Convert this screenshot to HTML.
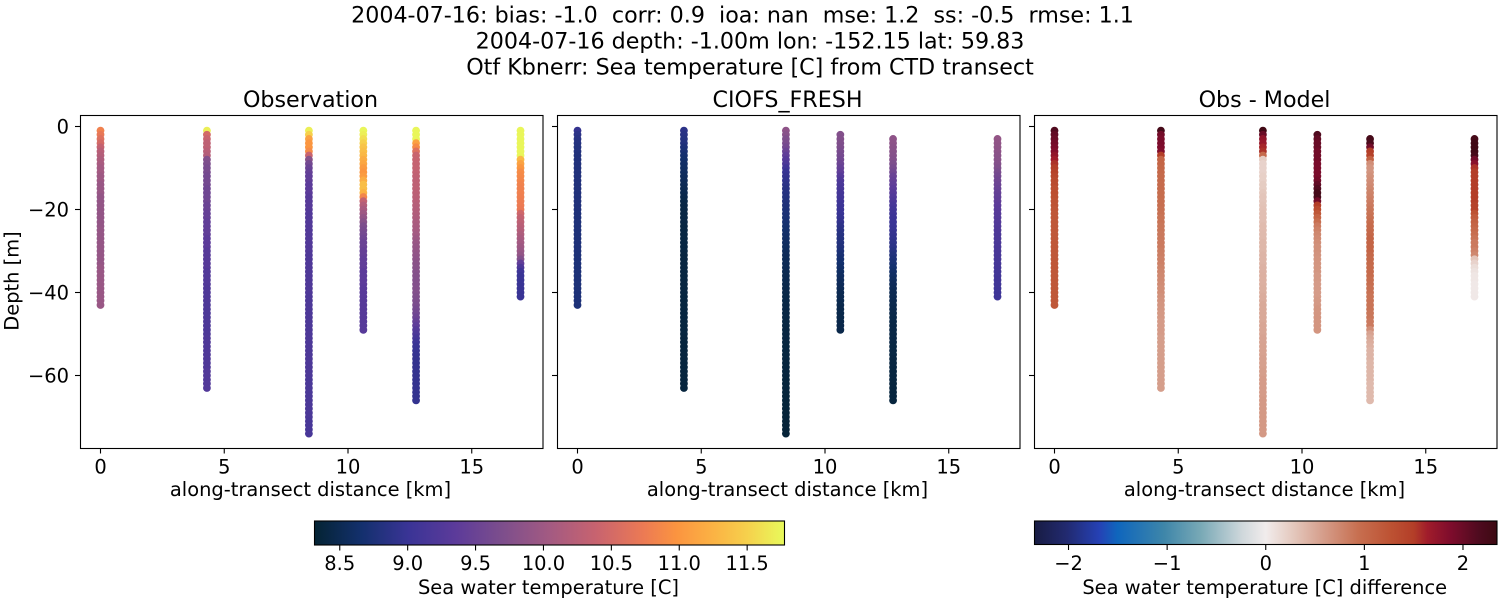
<!DOCTYPE html>
<html lang="en">
<head>
<meta charset="utf-8">
<title>Sea temperature CTD transect</title>
<style>
html,body{margin:0;padding:0;background:#fff;}
svg{display:block;}
text{font-family:"DejaVu Sans","Liberation Sans",sans-serif;fill:#000;white-space:pre;}
</style>
</head>
<body>
<svg id="chart" xmlns="http://www.w3.org/2000/svg" width="1500" height="600" viewBox="0 0 1500 600">
  <defs>
    <linearGradient id="thermal-gradient" x1="0" x2="1" y1="0" y2="0"></linearGradient>
    <linearGradient id="balance-gradient" x1="0" x2="1" y1="0" y2="0"></linearGradient>
  </defs>
  <rect x="0" y="0" width="1500" height="600" fill="#fff"/>
  <g text-anchor="middle" font-size="22.2">
    <text x="742.5" y="22.5" xml:space="preserve">2004-07-16: bias: -1.0  corr: 0.9  ioa: nan  mse: 1.2  ss: -0.5  rmse: 1.1</text>
    <text x="750" y="48.5">2004-07-16 depth: -1.00m lon: -152.15 lat: 59.83</text>
    <text x="750" y="74.5">Otf Kbnerr: Sea temperature [C] from CTD transect</text>
  </g>
  <g id="panels"></g>
  <g id="colorbars"></g>
</svg>
<script>
// ---- data: station distance along the transect [km]
var stationKm = [0, 4.3, 8.42, 10.62, 12.75, 16.97];
// first sampled depth [m] per station
var obsStartDepth = [1, 1, 1, 1, 1, 1];
var modelStartDepth = [1, 1, 1, 2, 3, 3];
// tick labels
var xTicks = [0, 5, 10, 15];
var yTicks = [0, -20, -40, -60];
var tempTicks = [8.5, 9.0, 9.5, 10.0, 10.5, 11.0, 11.5];
var diffTicks = [-2, -1, 0, 1, 2];
// colour limits
var tempLimits = [8.314, 11.775];
var diffLimits = [-2.345, 2.345];

// observed temperature, one value per metre, per station
var obsStation1 = [10.8,10.7,10.6,10.5,10.35,10.25,10.2,10.15,10.1,10.05,
10.05,10.0,10.0,9.95,9.95,9.95,9.9,9.9,9.9,9.9,
9.9,9.9,9.9,9.9,9.92,9.92,9.92,9.92,9.92,9.92,
9.92,9.92,9.92,9.95,9.95,9.95,9.95,9.95,9.95,9.95,9.95,9.95,9.95];
var obsStation2 = [11.7,10.5,10.4,10.3,10.3,10.25,10.2,9.75,9.7,9.65,
9.65,9.6,9.6,9.6,9.55,9.55,9.55,9.55,9.5,9.5,
9.45,9.45,9.4,9.4,9.4,9.4,9.35,9.35,9.35,9.3,
9.3,9.3,9.3,9.3,9.25,9.25,9.25,9.25,9.22,9.22,
9.22,9.22,9.2,9.2,9.2,9.2,9.2,9.2,9.2,9.2,
9.22,9.22,9.22,9.22,9.22,9.22,9.22,9.22,9.25,9.25,
9.25,9.25,9.25];
var obsStation3 = [11.7,11.5,11.1,11.0,11.0,10.9,10.4,9.8,9.6,9.5,
9.45,9.4,9.4,9.35,9.35,9.35,9.3,9.3,9.3,9.3,
9.25,9.25,9.25,9.25,9.25,9.25,9.25,9.25,9.25,9.25,
9.22,9.22,9.22,9.22,9.22,9.22,9.22,9.22,9.22,9.22,
9.2,9.2,9.2,9.2,9.2,9.2,9.2,9.2,9.2,9.2,
9.2,9.2,9.2,9.2,9.2,9.2,9.2,9.2,9.2,9.2,
9.18,9.18,9.18,9.18,9.18,9.18,9.18,9.18,9.18,9.18,
9.15,9.15,9.15,9.15];
var obsStation4 = [11.75,11.7,11.6,11.5,11.4,11.35,11.3,11.2,11.15,11.05,
11.0,11.05,11.2,11.35,11.35,11.25,10.85,10.35,10.2,10.1,
10.0,9.9,9.8,9.7,9.65,9.6,9.55,9.5,9.5,9.45,
9.45,9.4,9.4,9.4,9.35,9.35,9.35,9.35,9.32,9.32,
9.32,9.3,9.3,9.3,9.3,9.3,9.3,9.3,9.3];
var obsStation5 = [11.75,11.75,11.75,11.1,10.9,10.6,10.4,10.38,10.36,10.35,
10.34,10.32,10.3,10.3,10.3,10.28,10.26,10.25,10.22,10.2,
10.18,10.15,10.12,10.1,10.08,10.05,10.0,9.95,9.92,9.9,
9.88,9.85,9.82,9.8,9.78,9.76,9.75,9.75,9.75,9.75,
9.72,9.7,9.68,9.62,9.58,9.52,9.45,9.38,9.28,9.2,
9.12,9.05,9.0,8.98,8.96,8.95,8.95,8.95,8.95,8.95,
8.95,8.95,8.95,8.95,8.95,8.95];
var obsStation6 = [11.75,11.75,11.75,11.75,11.75,11.75,11.75,11.3,11.1,11.0,
10.9,10.88,10.85,10.82,10.8,10.8,10.78,10.76,10.75,10.72,
10.45,10.35,10.3,10.25,10.2,10.15,10.1,10.05,10.0,9.95,
9.9,9.75,9.4,9.2,9.05,9.0,9.0,9.0,9.0,9.0,
9.0];

// model temperature
var modelStation1 = [8.95,8.88,8.85,8.82,8.8,8.8,8.78,8.78,8.78,8.78,
8.78,8.78,8.78,8.78,8.78,8.78,8.78,8.78,8.78,8.78,
8.76,8.76,8.76,8.76,8.76,8.76,8.76,8.76,8.76,8.76,
8.75,8.75,8.75,8.75,8.75,8.75,8.75,8.75,8.75,8.75,8.75,8.75,8.75];
var modelStation2 = [8.88,8.85,8.82,8.8,8.75,8.72,8.68,8.65,8.62,8.6,
8.58,8.56,8.54,8.52,8.5,8.48,8.46,8.44,8.43,8.42,
8.42,8.42,8.42,8.41,8.41,8.41,8.41,8.41,8.41,8.41,
8.4,8.4,8.4,8.4,8.4,8.4,8.4,8.4,8.4,8.4,
8.39,8.39,8.39,8.39,8.39,8.39,8.39,8.39,8.39,8.39,
8.38,8.38,8.38,8.38,8.38,8.38,8.38,8.38,8.38,8.38,
8.38,8.38,8.38];
var modelStation3 = [9.85,9.8,9.72,9.68,9.6,9.5,9.4,9.3,9.2,9.08,
8.98,8.95,8.92,8.88,8.85,8.83,8.81,8.79,8.77,8.75,
8.73,8.71,8.69,8.67,8.65,8.63,8.61,8.59,8.57,8.55,
8.54,8.53,8.52,8.51,8.5,8.49,8.48,8.47,8.46,8.45,
8.44,8.44,8.43,8.43,8.42,8.42,8.41,8.41,8.4,8.4,
8.4,8.4,8.39,8.39,8.39,8.39,8.38,8.38,8.38,8.38,
8.37,8.37,8.37,8.37,8.36,8.36,8.36,8.36,8.35,8.35,
8.35,8.35,8.35,8.35];
var modelStation4 = [9.75,9.74,9.72,9.7,9.66,9.62,9.58,9.52,9.46,9.4,
9.3,9.22,9.18,9.15,9.12,9.1,9.07,9.04,9.02,9.0,
8.97,8.94,8.9,8.86,8.84,8.82,8.8,8.78,8.75,8.72,
8.69,8.66,8.63,8.6,8.58,8.56,8.54,8.52,8.5,8.49,
8.48,8.47,8.46,8.46,8.45,8.45,8.45,8.45];
var modelStation5 = [9.85,9.84,9.82,9.8,9.78,9.75,9.7,9.65,9.58,9.5,
9.45,9.4,9.35,9.3,9.25,9.2,9.15,9.1,9.06,9.03,
9.01,9.0,8.98,8.95,8.93,8.9,8.87,8.83,8.79,8.75,
8.71,8.67,8.63,8.6,8.57,8.54,8.52,8.5,8.49,8.48,
8.47,8.46,8.45,8.44,8.44,8.43,8.43,8.42,8.42,8.42,
8.41,8.41,8.41,8.4,8.4,8.4,8.39,8.39,8.39,8.38,
8.38,8.38,8.38,8.38];
var modelStation6 = [9.9,9.88,9.86,9.84,9.82,9.8,9.76,9.72,9.66,9.6,
9.56,9.52,9.48,9.45,9.42,9.39,9.36,9.33,9.3,9.28,
9.26,9.24,9.22,9.2,9.19,9.18,9.17,9.16,9.15,9.14,
9.13,9.12,9.1,9.09,9.08,9.07,9.06,9.05,9.05];

// obs minus model difference
var diffStation1 = [2.15,2.05,2.0,1.95,1.9,1.85,1.75,1.65,1.55,1.5,
1.45,1.4,1.35,1.35,1.3,1.3,1.28,1.25,1.25,1.22,
1.2,1.2,1.2,1.2,1.2,1.2,1.2,1.2,1.2,1.2,
1.2,1.2,1.2,1.2,1.2,1.2,1.2,1.2,1.2,1.2,1.2,1.2,1.2];
var diffStation2 = [2.25,1.95,1.9,1.9,1.88,1.85,1.5,1.05,1.05,1.03,
1.02,1.0,1.0,0.98,0.98,0.96,0.96,0.95,0.95,0.93,
0.92,0.9,0.9,0.88,0.88,0.86,0.86,0.85,0.85,0.83,
0.82,0.8,0.8,0.78,0.76,0.75,0.74,0.72,0.7,0.7,
0.68,0.66,0.65,0.64,0.62,0.62,0.6,0.6,0.6,0.6,
0.58,0.58,0.58,0.58,0.58,0.58,0.58,0.58,0.58,0.58,
0.58,0.58,0.58];
var diffStation3 = [2.3,2.0,1.75,1.7,1.6,1.55,1.0,0.25,0.2,0.2,
0.2,0.22,0.22,0.25,0.25,0.28,0.3,0.3,0.32,0.33,
0.35,0.35,0.35,0.37,0.37,0.38,0.38,0.4,0.4,0.4,
0.42,0.42,0.42,0.44,0.44,0.45,0.45,0.45,0.46,0.46,
0.48,0.48,0.5,0.5,0.5,0.5,0.5,0.52,0.52,0.52,
0.54,0.54,0.55,0.55,0.55,0.56,0.56,0.56,0.58,0.58,
0.6,0.6,0.6,0.6,0.6,0.62,0.62,0.62,0.62,0.62,
0.62,0.62,0.62,0.62];
var diffStation4 = [2.15,2.05,2.0,2.0,1.95,1.95,1.95,1.9,1.9,1.9,
1.9,1.95,2.05,2.15,2.25,2.25,1.95,1.5,1.35,1.2,
1.05,0.95,0.85,0.8,0.75,0.72,0.7,0.68,0.68,0.66,
0.65,0.65,0.64,0.64,0.62,0.62,0.6,0.6,0.6,0.6,
0.62,0.62,0.64,0.64,0.65,0.65,0.65,0.65];
var diffStation5 = [2.25,2.2,1.95,1.5,1.45,1.1,0.7,0.65,0.65,0.68,
0.7,0.72,0.75,0.78,0.8,0.82,0.85,0.88,0.9,0.92,
0.95,0.98,1.0,1.02,1.05,1.05,1.05,1.05,1.02,1.0,
1.0,0.98,0.98,0.98,0.95,0.95,0.92,0.92,0.9,0.9,
0.9,0.9,0.88,0.88,0.85,0.85,0.7,0.55,0.5,0.47,
0.45,0.42,0.42,0.42,0.4,0.4,0.4,0.4,0.4,0.38,
0.38,0.38,0.38,0.38];
var diffStation6 = [2.25,2.3,2.3,2.3,2.25,1.95,1.8,1.55,1.5,1.5,
1.5,1.5,1.5,1.5,1.5,1.5,1.45,1.45,1.25,1.15,
1.1,1.05,1.0,0.95,0.9,0.85,0.85,0.8,0.75,0.3,
0.2,0.12,0.08,0.05,0.05,0.03,0.03,0.03,0.03];

var obsSeries = [obsStation1, obsStation2, obsStation3, obsStation4, obsStation5, obsStation6];
var modelSeries = [modelStation1, modelStation2, modelStation3, modelStation4, modelStation5, modelStation6];
var diffSeries = [diffStation1, diffStation2, diffStation3, diffStation4, diffStation5, diffStation6];

// ---- colour maps
var thermalStops = [[0,'#042333'],[0.1,'#13306d'],[0.2,'#3a3496'],[0.3,'#5c3b9a'],[0.4,'#7d4e8c'],[0.5,'#a35a82'],[0.6,'#c8636f'],[0.7,'#ec7a54'],[0.77,'#fb9440'],[0.85,'#fbb344'],[0.92,'#f6d04c'],[1,'#e8fa5b']];
var balanceStops = [[0,'#181c43'],[0.07,'#222a70'],[0.14,'#2541b5'],[0.18,'#0f66bd'],[0.28,'#3e86a9'],[0.36,'#79a9b6'],[0.45,'#d0d8dc'],[0.5,'#f1ecec'],[0.56,'#e4c8bd'],[0.62,'#d6a08e'],[0.7,'#c76f50'],[0.77,'#bd5233'],[0.82,'#b33e28'],[0.85,'#a01c2b'],[0.9,'#7e0c2c'],[0.96,'#4f0b1f'],[1,'#3c0912']];

function hexToRgb(h){
  return [parseInt(h.substr(1,2),16),parseInt(h.substr(3,2),16),parseInt(h.substr(5,2),16)];
}
function colorAt(stops,t){
  t=Math.max(0,Math.min(1,t));
  for(var i=1;i<stops.length;i++){
    if(t<=stops[i][0]){
      var a=stops[i-1],b=stops[i],f=(t-a[0])/(b[0]-a[0]);
      var ca=hexToRgb(a[1]),cb=hexToRgb(b[1]);
      return 'rgb('+Math.round(ca[0]+(cb[0]-ca[0])*f)+','+Math.round(ca[1]+(cb[1]-ca[1])*f)+','+Math.round(ca[2]+(cb[2]-ca[2])*f)+')';
    }
  }
  return stops[stops.length-1][1];
}
function normalize(v,lim){return (v-lim[0])/(lim[1]-lim[0]);}

// ---- drawing helpers
var NS='http://www.w3.org/2000/svg';
function svgEl(tag,parent,attrs){
  var el=document.createElementNS(NS,tag);
  for(var k in attrs){el.setAttribute(k,attrs[k]);}
  parent.appendChild(el);
  return el;
}
function minusText(v,dec){
  var s=Math.abs(v).toFixed(dec);
  return (v<0?'\u2212':'')+s;
}

// ---- panels
var axTop=115, axBottom=448, axWidth=463;
var panelDefs=[
  {key:'observation',left:80,title:'Observation',series:obsSeries,starts:obsStartDepth,stops:thermalStops,limits:tempLimits,yLabels:true},
  {key:'model',left:557,title:'CIOFS_FRESH',series:modelSeries,starts:modelStartDepth,stops:thermalStops,limits:tempLimits,yLabels:false},
  {key:'difference',left:1034,title:'Obs - Model',series:diffSeries,starts:modelStartDepth,stops:balanceStops,limits:diffLimits,yLabels:false}
];
function xScale(left,km){return left+20.5+24.75*km;}
function yScale(depthValue){return 126.5-4.15*depthValue;}

var panelsRoot=document.getElementById('panels');
panelDefs.forEach(function(p){
  var g=svgEl('g',panelsRoot,{});
  
  

  var title=svgEl('text',g,{x:p.left+axWidth/2-1,y:107,'text-anchor':'middle','font-size':22.2});
  title.textContent=p.title;
  
  

  // markers: shallow first, deeper drawn on top
  p.series.forEach(function(values,s){
    var sg=svgEl('g',g,{});
    
    
    values.forEach(function(v,i){
      var depth=p.starts[s]+i;
      var c=svgEl('circle',sg,{cx:xScale(p.left,stationKm[s]),cy:yScale(-depth),r:3.9,fill:colorAt(p.stops,normalize(v,p.limits))});
      
      
    });
  });

  var frame=svgEl('rect',g,{x:p.left+0.5,y:axTop+0.5,width:axWidth-0.5,height:axBottom-axTop,fill:'none',stroke:'#000','stroke-width':1.1});
  
  

  xTicks.forEach(function(t){
    var x=xScale(p.left,t);
    var tick=svgEl('line',g,{x1:x,x2:x,y1:axBottom+0.5,y2:axBottom+5.5,stroke:'#000','stroke-width':1.1});
    
    
    var lab=svgEl('text',g,{x:x,y:473.5,'text-anchor':'middle','font-size':19.44});
    lab.textContent=String(t);
    
    
  });
  yTicks.forEach(function(t){
    var y=yScale(t);
    var tick=svgEl('line',g,{x1:p.left-5,x2:p.left+0.5,y1:y,y2:y,stroke:'#000','stroke-width':1.1});
    
    
    if(p.yLabels){
      var lab=svgEl('text',g,{x:p.left-11,y:y+7,'text-anchor':'end','font-size':19.44});
      lab.textContent=minusText(t,0);
      
      
    }
  });
  var xl=svgEl('text',g,{x:p.left+axWidth/2-1,y:496,'text-anchor':'middle','font-size':19.44});
  xl.textContent='along-transect distance [km]';
  
  
  if(p.yLabels){
    var yl=svgEl('text',g,{x:0,y:0,'text-anchor':'middle','font-size':19.44,transform:'translate(18.5 281) rotate(-90)'});
    yl.textContent='Depth [m]';
    
    
  }
});

// ---- colour bars
function fillGradient(id,stops){
  var grad=document.getElementById(id);
  stops.forEach(function(s){
    svgEl('stop',grad,{offset:s[0],'stop-color':s[1]});
  });
}
fillGradient('thermal-gradient',thermalStops);
fillGradient('balance-gradient',balanceStops);

var barsRoot=document.getElementById('colorbars');
var barDefs=[
  {key:'temperature',x:314.5,w:470,h:24,grad:'thermal-gradient',limits:tempLimits,ticks:tempTicks,dec:1,label:'Sea water temperature [C]'},
  {key:'difference',x:1034.5,w:462.5,h:23.5,grad:'balance-gradient',limits:diffLimits,ticks:diffTicks,dec:0,label:'Sea water temperature [C] difference'}
];
barDefs.forEach(function(b){
  var g=svgEl('g',barsRoot,{});
  
  
  var r=svgEl('rect',g,{x:b.x,y:521,width:b.w,height:b.h,fill:'url(#'+b.grad+')',stroke:'#000','stroke-width':1.1});
  
  
  b.ticks.forEach(function(t){
    var x=b.x+normalize(t,b.limits)*b.w;
    var tick=svgEl('line',g,{x1:x,x2:x,y1:521+b.h,y2:521+b.h+5.5,stroke:'#000','stroke-width':1.1});
    
    
    var lab=svgEl('text',g,{x:x,y:570,'text-anchor':'middle','font-size':19.44});
    lab.textContent=minusText(t,b.dec);
    
    
  });
  var title=svgEl('text',g,{x:b.x+b.w/2-1,y:594,'text-anchor':'middle','font-size':19.44});
  title.textContent=b.label;
  
  
});
</script>
</body>
</html>
